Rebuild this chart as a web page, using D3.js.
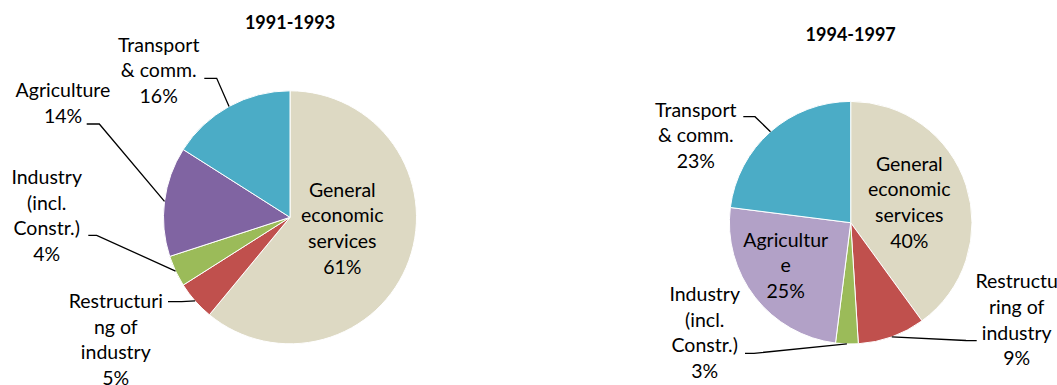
<!DOCTYPE html>
<html lang="en">
<head>
    <meta charset="UTF-8">
    <title>Spending by sector</title>
    <script src="https://cdn.jsdelivr.net/npm/d3@7/dist/d3.min.js"></script>
    <style>
        html, body {
            margin: 0;
            padding: 0;
            background: #fff;
        }
        text {
            font-family: Lato, "Open Sans", sans-serif;
            fill: #000;
        }
    </style>
</head>
<body>
<svg id="chart" width="1057" height="385"></svg>

<script>
    // data
    const categories = ["General economic services", "Restructuring of industry", "Industry (incl. Constr.)", "Agriculture", "Transport & comm."];
    const periods = ["1991-1993", "1994-1997"];
    const values9193 = [61, 5, 4, 14, 16];
    const values9497 = [40, 9, 3, 25, 23];

    // wrapped label text as it shows on each pie
    const labels9193 = [["General", "economic", "services"], ["Restructuri", "ng of", "industry"], ["Industry", "(incl.", "Constr.)"], ["Agriculture"], ["Transport", "& comm."]];
    const labels9497 = [["General", "economic", "services"], ["Restructu", "ring of", "industry"], ["Industry", "(incl.", "Constr.)"], ["Agricultur", "e"], ["Transport", "& comm."]];

    const colors9193 = ["#DDD9C3", "#C0504D", "#9BBB59", "#8064A2", "#4BACC6"];
    const colors9497 = ["#DDD9C3", "#C0504D", "#9BBB59", "#B2A1C7", "#4BACC6"];

    const lineH = 25.7;

    // layout of each pie and where its labels sit
    const charts = [
        {
            title: periods[0], values: values9193, labels: labels9193, colors: colors9193,
            cx: 290, cy: 217.3, r: 126.5, titleY: 29,
            place: [
                {x: 342.3, y: 196.7},
                {x: 115.8, y: 308, lead: [168, 301.7, 181.7, 301.7]},
                {x: 46.7, y: 184, lead: [88.3, 235.3, 96.7, 235.3]},
                {x: 63, y: 97.3, lead: [86.7, 124, 99.3, 124]},
                {x: 158.7, y: 51.7, lead: [204.3, 78.3, 216.7, 78.3]}
            ]
        },
        {
            title: periods[1], values: values9497, labels: labels9497, colors: colors9497,
            cx: 850.7, cy: 222.7, r: 121.3, titleY: 41,
            place: [
                {x: 909.3, y: 170.7},
                {x: 1016.7, y: 288.3, lead: [976.7, 340.7, 966, 340.5]},
                {x: 704.7, y: 301, lead: [745, 353.3, 754, 353.3]},
                {x: 785.7, y: 246.7},
                {x: 695.8, y: 116.7, lead: [743.3, 116.7, 755, 116.7]}
            ]
        }
    ];

    const svg = d3.select("#chart");

    const pie = d3.pie().sort(null).value(d => d);

    charts.forEach(c => {
        const g = svg.append("g");
        const arcs = pie(c.values);

        const arc = d3.arc().innerRadius(0).outerRadius(c.r);
        const edge = d3.arc().innerRadius(c.r).outerRadius(c.r);

        g.append("text")
            .attr("x", c.cx)
            .attr("y", c.titleY)
            .attr("text-anchor", "middle")
            .style("font-size", "18px")
            .style("font-weight", "bold")
            .text(c.title);

        const pg = g.append("g").attr("transform", `translate(${c.cx},${c.cy})`);

        pg.selectAll("path")
            .data(arcs)
            .enter()
            .append("path")
            .attr("d", arc)
            .attr("fill", (d, i) => c.colors[i])
            .attr("stroke", "#fff")
            .attr("stroke-width", 1);

        // leader lines go from the label to the middle of the slice edge
        arcs.forEach((a, i) => {
            const p = c.place[i];
            if (!p.lead) return;
            const e = edge.centroid(a);
            g.append("polyline")
                .attr("points", [[p.lead[0], p.lead[1]], [p.lead[2], p.lead[3]], [c.cx + e[0], c.cy + e[1]]].join(" "))
                .attr("fill", "none")
                .attr("stroke", "#000")
                .attr("stroke-width", 1.3);
        });

        arcs.forEach((a, i) => {
            const p = c.place[i];
            const lines = c.labels[i].concat([c.values[i] + "%"]);
            const t = g.append("text")
                .attr("text-anchor", "middle")
                .style("font-size", "19.5px");
            lines.forEach((s, k) => {
                t.append("tspan")
                    .attr("x", p.x)
                    .attr("y", p.y + k * lineH)
                    .text(s);
            });
        });
    });
</script>
</body>
</html>
